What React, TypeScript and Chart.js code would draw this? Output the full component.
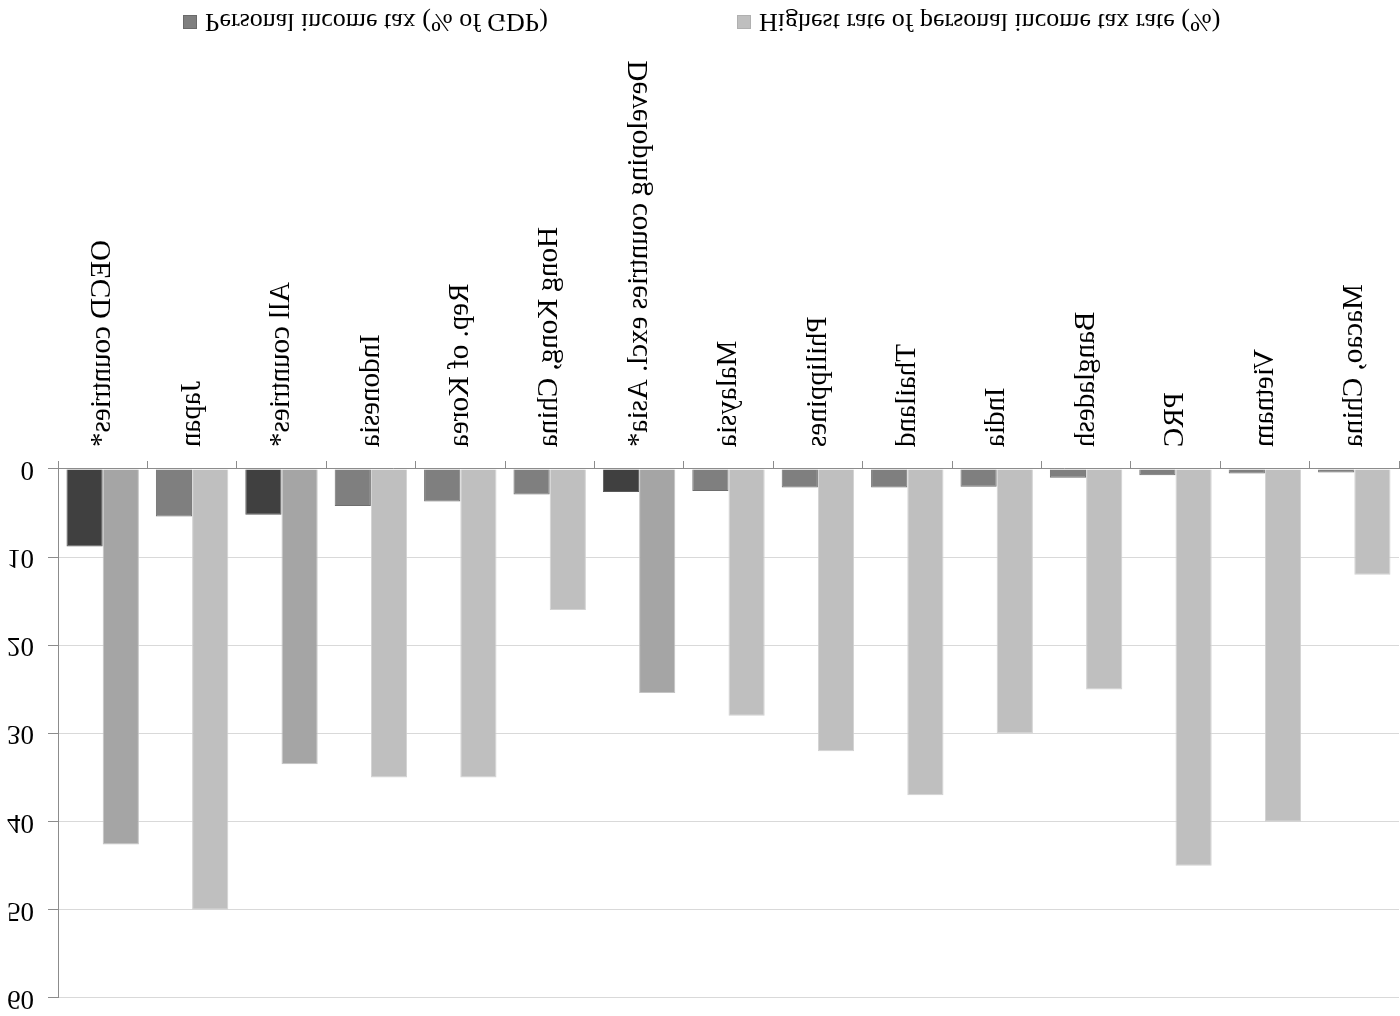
import React, { useEffect, useRef } from "react";
import { Chart, registerables } from "chart.js";

Chart.register(...registerables);

const categories = [
  "OECD countries*",
  "Japan",
  "All countries*",
  "Indonesia",
  "Rep. of Korea",
  "Hong Kong, China",
  "Developing countries excl. Asia*",
  "Malaysia",
  "Philippines",
  "Thailand",
  "India",
  "Bangladesh",
  "PRC",
  "Vietnam",
  "Macao, China",
];

const pitGdp = [8.8, 5.4, 5.2, 4.2, 3.7, 2.9, 2.6, 2.5, 2.1, 2.1, 2.0, 1.0, 0.7, 0.5, 0.4];
const topRate = [42.6, 50, 33.5, 35, 35, 16, 25.4, 28, 32, 37, 30, 25, 45, 40, 12];
const aggregateGroups = [true, false, true, false, false, false, true, false, false, false, false, false, false, false, false];

const seriesNames = ["Personal income tax (% of GDP)", "Highest rate of personal income tax rate (%)"];
const yTicks = [0, 10, 20, 30, 40, 50, 60];

const FONT = "'Liberation Serif', 'Times New Roman', serif";

export default function App() {
  const ref = useRef<HTMLCanvasElement | null>(null);

  useEffect(() => {
    document.body.style.margin = "0";
    const canvas = ref.current;
    if (!canvas) return;

    const legendPlugin = {
      id: "customLegend",
      afterDraw(chart: any) {
        const ctx = chart.ctx;
        ctx.save();
        const y = 994;
        const items = [
          { x: 183, color: "#7f7f7f", border: "#6a6a6a", text: seriesNames[0] },
          { x: 737, color: "#bfbfbf", border: "#b0b0b0", text: seriesNames[1] },
        ];
        ctx.font = `26px ${FONT}`;
        ctx.textBaseline = "middle";
        ctx.textAlign = "left";
        for (const it of items) {
          ctx.fillStyle = it.color;
          ctx.fillRect(it.x, y - 7, 14, 14);
          ctx.strokeStyle = it.border;
          ctx.lineWidth = 1;
          ctx.strokeRect(it.x + 0.5, y - 6.5, 13, 13);
          ctx.fillStyle = "#000";
          ctx.fillText(it.text, it.x + 22, y + 1);
        }
        ctx.restore();
      },
    };

    const chart = new Chart(canvas, {
      type: "bar",
      data: {
        labels: categories,
        datasets: [
          {
            label: seriesNames[0],
            data: pitGdp,
            backgroundColor: aggregateGroups.map((a) => (a ? "#404040" : "#7f7f7f")),
            borderColor: aggregateGroups.map((a) => (a ? "#5a5a5a" : "#6e6e6e")),
            borderWidth: 1,
            barPercentage: 1,
            categoryPercentage: 0.81,
          },
          {
            label: seriesNames[1],
            data: topRate,
            backgroundColor: aggregateGroups.map((a) => (a ? "#a5a5a5" : "#bfbfbf")),
            borderColor: aggregateGroups.map((a) => (a ? "#c4c4c4" : "#d2d2d2")),
            borderWidth: 1,
            barPercentage: 1,
            categoryPercentage: 0.81,
          },
        ],
      },
      options: {
        responsive: false,
        animation: false,
        devicePixelRatio: 1,
        layout: { padding: { top: 18, bottom: 40, left: 0, right: 1 } },
        plugins: {
          legend: { display: false },
          tooltip: { enabled: false },
        },
        scales: {
          x: {
            afterFit: (scale: any) => {
              scale.height = 1016 - 547 - 40;
              scale.paddingLeft = 0;
              scale.paddingRight = 0;
            },
            grid: {
              offset: true,
              drawOnChartArea: false,
              drawTicks: true,
              tickLength: 8,
              color: "#8c8c8c",
            },
            border: { display: true, color: "#8c8c8c", width: 1 },
            ticks: {
              autoSkip: false,
              maxRotation: 90,
              minRotation: 90,
              padding: 14,
              color: "#000",
              font: { family: FONT, size: 29 },
            },
          },
          y: {
            min: 0,
            max: 60,
            afterFit: (scale: any) => {
              scale.width = 58;
              scale.paddingTop = 0;
              scale.paddingBottom = 0;
            },
            afterBuildTicks: (scale: any) => {
              scale.ticks = yTicks.map((v) => ({ value: v }));
            },
            grid: {
              color: "#d9d9d9",
              tickColor: "#8c8c8c",
              tickLength: 10,
              drawTicks: true,
            },
            border: { display: true, color: "#8c8c8c", width: 1 },
            ticks: {
              stepSize: 10,
              padding: 14,
              color: "#000",
              font: { family: FONT, size: 27 },
            },
          },
        },
      },
      plugins: [legendPlugin],
    });

    return () => chart.destroy();
  }, []);

  return (
    <div
      style={{
        position: "fixed",
        left: 0,
        top: 0,
        width: 1400,
        height: 1016,
        background: "#fff",
        transform: "scaleY(-1)",
      }}
    >
      <canvas ref={ref} width={1400} height={1016} style={{ display: "block", width: 1400, height: 1016 }} />
    </div>
  );
}
